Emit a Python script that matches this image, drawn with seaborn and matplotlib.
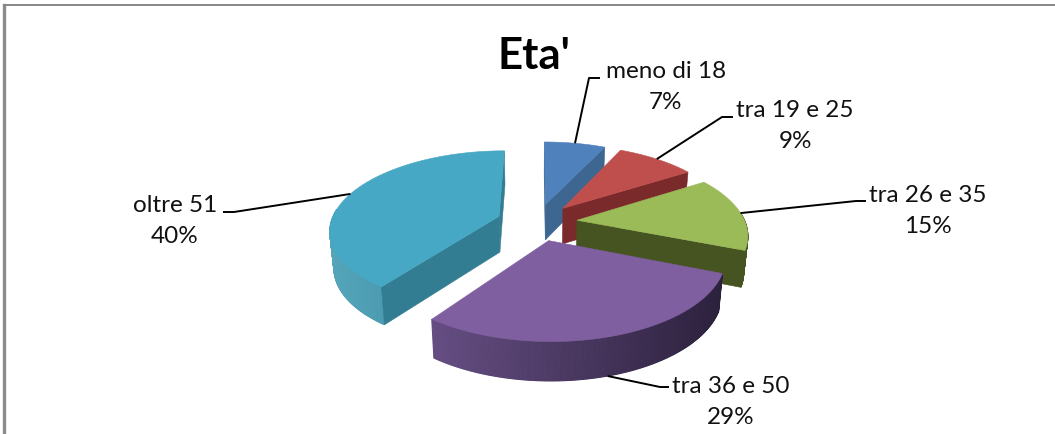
import numpy as np
import matplotlib
matplotlib.use("Agg")
import matplotlib.pyplot as plt
import seaborn as sns

# ---- data ----
categories = ["meno di 18", "tra 19 e 25", "tra 26 e 35", "tra 36 e 50", "oltre 51"]
percentages = [7, 9, 15, 29, 40]
title_text = "Eta'"

# ---- styles ----
top_colors = ["#4f81bd", "#bf4f4c", "#9bbb59", "#7f5f9f", "#46a8c4"]
face_colors = ["#3d6691", "#7a2a2a", "#465422", "#3f3058", "#337d92"]
wall_left = ["#3d6691", "#7a2a2a", "#4b5a25", "#654d82", "#54a4ba"]
wall_right = ["#3d6691", "#7a2a2a", "#465422", "#2c213d", "#37859b"]
draw_order = [4, 0, 1, 2, 3]

# ---- layout (pixels, y down) ----
CX, CY = 537, 222
RX, RY = 168, 77.8
KP = 0.162
EXPLODE = 0.24
DEPTH = 36
BOTTOM_SHRINK = 0.98
elbows = [((589, 78), (600, 78)), ((722, 117), (733, 117)), ((856, 201), (866, 201)),
          ((660, 387), (669, 387)), ((234, 212), (223, 212))]
label_xy = [(666, 87), (795, 126), (928, 211), (731, 402), (175, 221)]

sns.set_theme(style="white")
plt.rcParams["font.family"] = ["Lato", "DejaVu Sans"]

fig = plt.figure(figsize=(10.55, 4.34), dpi=100, facecolor="white")
ax = fig.add_axes([4 / 1055, 0, 1051 / 1055, 429 / 434])
ax.set_xlim(4, 1055)
ax.set_ylim(434, 5)
ax.set_xticks([])
ax.set_yticks([])
sns.despine(ax=ax, top=False, left=False, right=True, bottom=True)
ax.spines["top"].set_color("#868686")
ax.spines["top"].set_linewidth(1.4)
ax.spines["left"].set_color("#8c8c8c")
ax.spines["left"].set_linewidth(2.4)


def project(theta, r, phi, bottom=False):
    """Ground-plane polar point of an exploded slice to screen pixels."""
    gx = r * np.sin(theta) + EXPLODE * np.sin(phi)
    gy = r * np.cos(theta) + EXPLODE * np.cos(phi)
    w = 1.0 / (1.0 + KP * gy)
    sx = RX * gx * w
    sy = -RY * gy * w
    if bottom:
        sx = sx * BOTTOM_SHRINK
        sy = sy + DEPTH * w ** 0.4
    return CX + sx, CY + sy


def lerp_color(c1, c2, t):
    a, b = np.array(matplotlib.colors.to_rgb(c1)), np.array(matplotlib.colors.to_rgb(c2))
    return tuple(a + (b - a) * t)


fractions = np.array(percentages, dtype=float) / np.sum(percentages)
edges = np.concatenate([[0], np.cumsum(fractions)]) * 2 * np.pi

for i in draw_order:
    t1, t2 = edges[i], edges[i + 1]
    phi = 0.5 * (t1 + t2)
    arc = np.linspace(t1, t2, max(24, int((t2 - t1) * 120)))

    # outer wall with a horizontal gradient, front-facing part only
    xt, yt = project(arc, 1.0, phi)
    xb, yb = project(arc, 1.0, phi, bottom=True)
    xmin, xmax = xt.min(), xt.max()
    for j in range(len(arc) - 1):
        if np.cos(0.5 * (arc[j] + arc[j + 1])) > 0.1:
            continue
        c = lerp_color(wall_left[i], wall_right[i],
                       (0.5 * (xt[j] + xt[j + 1]) - xmin) / max(xmax - xmin, 1))
        ax.fill([xt[j], xt[j + 1], xb[j + 1], xb[j]],
                [yt[j], yt[j + 1], yb[j + 1], yb[j]],
                facecolor=c, edgecolor=c, lw=0.8, zorder=1)

    # radial faces, only those turned towards the viewer
    for t, normal in ((t1, t1 - np.pi / 2), (t2, t2 + np.pi / 2)):
        if np.cos(normal) < 0.01:
            x0, y0 = project(t, 0.0, phi)
            x1, y1 = project(t, 1.0, phi)
            x2, y2 = project(t, 1.0, phi, bottom=True)
            x3, y3 = project(t, 0.0, phi, bottom=True)
            ax.fill([x0, x1, x2, x3], [y0, y1, y2, y3],
                    facecolor=face_colors[i], edgecolor=face_colors[i], lw=0.4, zorder=1)

    # top surface
    tipx, tipy = project(t1, 0.0, phi)
    ax.fill(np.r_[tipx, xt], np.r_[tipy, yt], facecolor=top_colors[i],
            edgecolor=top_colors[i], lw=0.4, zorder=1)

# leader lines and labels
for i, (cat, pct) in enumerate(zip(categories, percentages)):
    phi = 0.5 * (edges[i] + edges[i + 1])
    ax_, ay_ = project(phi, 1.0, phi, bottom=(i == 3))
    (ex1, ey1), (ex2, ey2) = elbows[i]
    ax.plot([ax_, ex1, ex2], [ay_, ey1, ey2], color="black", lw=1.4, zorder=3,
            solid_capstyle="butt", solid_joinstyle="round")
    ax.text(label_xy[i][0], label_xy[i][1], f"{cat}\n{pct}%", ha="center", va="center",
            fontsize=17.5, color="#111111", linespacing=1.62, zorder=4)

ax.text(534, 56, title_text, ha="center", va="center", fontsize=31.5,
        fontweight="bold", color="black", zorder=4)

fig.savefig("out.png", dpi=100, facecolor="white")
